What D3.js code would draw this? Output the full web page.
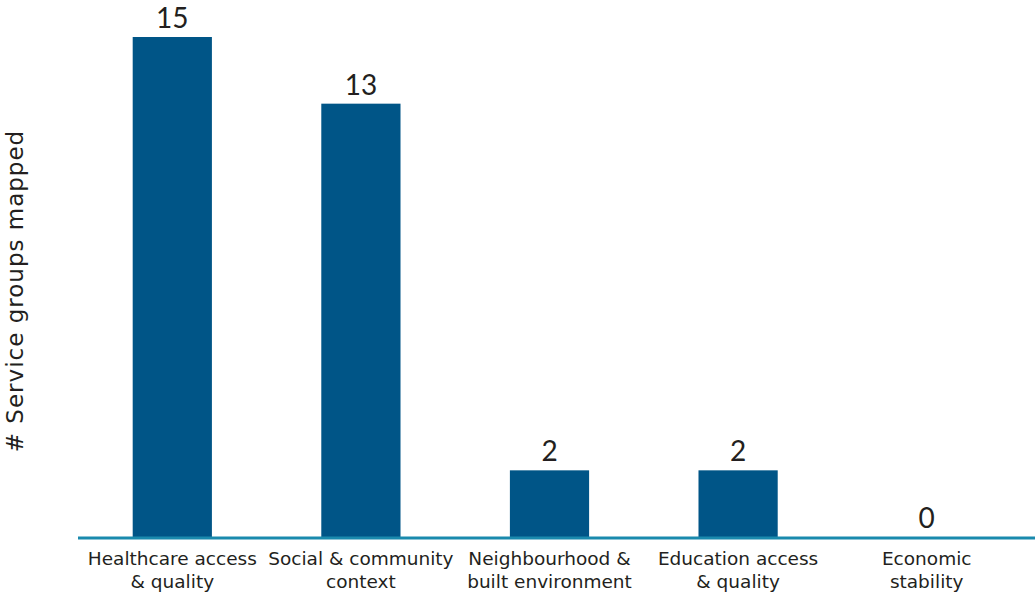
<!DOCTYPE html>
<html>
<head>
<meta charset="utf-8">
<script src="https://cdn.jsdelivr.net/npm/d3@7"></script>
<style>
  body { margin: 0; background: #fff; }
  text { font-family: "DejaVu Sans", sans-serif; fill: #231f20; }
</style>
</head>
<body>
<svg width="1035" height="594"></svg>
<script>
const categories = [
  ["Healthcare access", "& quality"],
  ["Social & community", "context"],
  ["Neighbourhood &", "built environment"],
  ["Education access", "& quality"],
  ["Economic", "stability"]
];
const values = [15, 13, 2, 2, 0];
const yTitle = "# Service groups mapped";

const svg = d3.select("svg");
const names = categories.map(c => c.join(" "));

// x: evenly spaced bands, y: counts
const x = d3.scaleBand().domain(names).range([78, 1021]).paddingInner(0.58).paddingOuter(0.29);
const y = d3.scaleLinear().domain([0, 15]).range([537, 37]);

// bars
svg.selectAll("rect.bar")
  .data(values)
  .join("rect")
  .attr("class", "bar")
  .attr("x", (d, i) => x(names[i]))
  .attr("width", x.bandwidth())
  .attr("y", d => y(d))
  .attr("height", d => y(0) - y(d))
  .attr("fill", "#005587");

// value labels
svg.selectAll("text.val")
  .data(values)
  .join("text")
  .attr("class", "val")
  .attr("x", (d, i) => x(names[i]) + x.bandwidth() / 2)
  .attr("y", d => y(d) - 9)
  .attr("text-anchor", "middle")
  .style("font-family", "Lato, sans-serif")
  .style("font-size", "28px")
  .text(d => d);

// baseline
svg.append("line")
  .attr("x1", 78).attr("x2", 1035)
  .attr("y1", y(0) + 1).attr("y2", y(0) + 1)
  .attr("stroke", "#1a8aad")
  .attr("stroke-width", 3);

// category labels, two lines each
const cat = svg.selectAll("text.cat")
  .data(categories)
  .join("text")
  .attr("class", "cat")
  .attr("text-anchor", "middle")
  .style("font-size", "18.5px");
cat.selectAll("tspan")
  .data((d, i) => d.map(line => ({ line, i })))
  .join("tspan")
  .attr("x", d => x(names[d.i]) + x.bandwidth() / 2)
  .attr("y", (d, j) => 565 + j * 23)
  .text(d => d.line);

// y axis title
svg.append("text")
  .attr("transform", "translate(23,291) rotate(-90)")
  .attr("text-anchor", "middle")
  .style("font-size", "23px")
  .style("letter-spacing", "1px")
  .text(yTitle);
</script>
</body>
</html>
